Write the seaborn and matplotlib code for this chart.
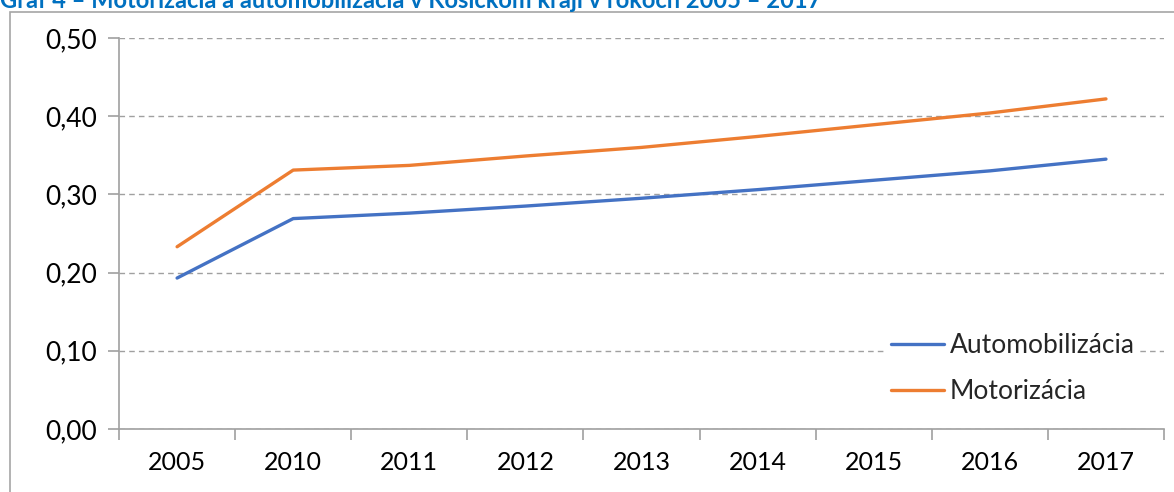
import pandas as pd
import matplotlib.pyplot as plt
import matplotlib.patches as patches
from matplotlib.ticker import FixedLocator, FuncFormatter
import seaborn as sns

# values
years = ['2005', '2010', '2011', '2012', '2013', '2014', '2015', '2016', '2017']
automobilizacia = [0.193, 0.269, 0.276, 0.285, 0.295, 0.306, 0.318, 0.330, 0.345]
motorizacia = [0.233, 0.331, 0.337, 0.349, 0.360, 0.374, 0.389, 0.404, 0.422]
series_names = ['Automobilizácia', 'Motorizácia']
series_colors = ['#4472C4', '#ED7D31']

df = pd.DataFrame({
    'rok': years * 2,
    'hodnota': automobilizacia + motorizacia,
    'ukazovatel': [series_names[0]] * len(years) + [series_names[1]] * len(years),
})

sns.set_theme(style='white')
plt.rcParams['font.family'] = ['Lato', 'DejaVu Sans']

fig = plt.figure(figsize=(11.74, 4.92), dpi=100)
ax = fig.add_axes([0.1014, 0.128, 0.8901, 0.795])

# chart border and (cut off) title like in the source document
fig.patches.append(patches.Rectangle((10 / 1174, -0.05), 1.2, 1 - 12 / 492 + 0.05,
                                     transform=fig.transFigure, fill=False,
                                     edgecolor='#A6A6A6', linewidth=1.2))
fig.text(0.0, 1.0 - 0 / 492, 'Graf 4 – Motorizácia a automobilizácia v Košickom kraji v rokoch 2005 – 2017',
         color='#0070C0', fontsize=17, fontweight='bold', va='center', ha='left')

sns.lineplot(data=df, x='rok', y='hodnota', hue='ukazovatel', palette=series_colors,
             linewidth=2.4, sort=False, ax=ax)

ax.set_xlim(-0.5, len(years) - 0.5)
ax.set_ylim(0, 0.5)
ax.set_yticks([0, 0.1, 0.2, 0.3, 0.4, 0.5])
ax.yaxis.set_major_formatter(FuncFormatter(lambda v, p: f'{v:.2f}'.replace('.', ',')))
ax.set_xlabel('')
ax.set_ylabel('')

ax.yaxis.grid(True, linestyle=(0, (4, 3)), color='#A0A0A0', linewidth=1)
ax.set_axisbelow(True)
for s in ['top', 'right']:
    ax.spines[s].set_visible(False)
for s in ['left', 'bottom']:
    ax.spines[s].set_color('#A0A0A0')
    ax.spines[s].set_linewidth(1.2)

# x ticks sit between categories
ax.xaxis.set_minor_locator(FixedLocator([i - 0.5 for i in range(len(years) + 1)]))
ax.tick_params(axis='x', which='major', length=0, pad=16, labelsize=18, colors='black')
ax.tick_params(axis='x', which='minor', bottom=True, length=8, color='#A0A0A0', width=1.2)
ax.tick_params(axis='y', left=True, length=8, color='#A0A0A0', width=1.2, pad=8,
               labelsize=19, labelcolor='black')

leg = ax.legend(loc='lower right', bbox_to_anchor=(0.99, 0.017), frameon=True, fontsize=19,
                handlelength=2.0, handletextpad=0.25, labelspacing=0.8, borderpad=0.2)
leg.get_frame().set_facecolor('white')
leg.get_frame().set_edgecolor('none')
leg.get_frame().set_alpha(1)

plt.savefig('out.png', dpi=100)
